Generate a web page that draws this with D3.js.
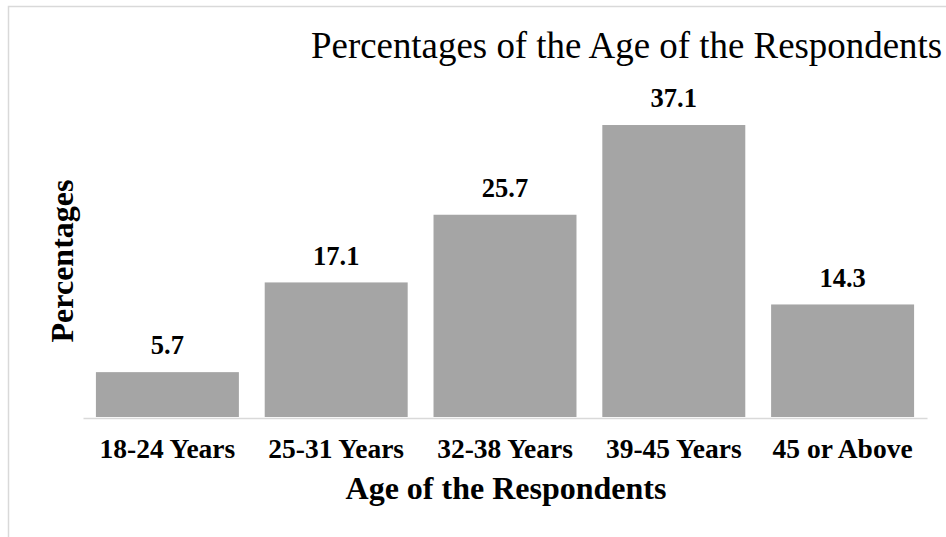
<!DOCTYPE html>
<html>
<head>
<meta charset="utf-8">
<script src="https://cdn.jsdelivr.net/npm/d3@7/dist/d3.min.js"></script>
<style>
  html, body { margin: 0; padding: 0; background: #fff; }
  svg { display: block; }
  text { font-family: "Liberation Serif", "Times New Roman", serif; fill: #000; }
</style>
</head>
<body>
<svg id="chart" width="946" height="537"></svg>
<script>
// Age groups and the share of respondents in each (%)
const categories = ["18-24 Years", "25-31 Years", "32-38 Years", "39-45 Years", "45 or Above"];
const percentages = [5.7, 17.1, 25.7, 37.1, 14.3];
const chartTitle = "Percentages of the Age of the Respondents";
const xTitle = "Age of the Respondents";
const yTitle = "Percentages";

const svg = d3.select("#chart");
const plot = { left: 83, right: 927, top: 102.2, bottom: 417 };

// Outer chart frame
svg.append("rect")
  .attr("x", 8.5).attr("y", 6.5)
  .attr("width", 1200).attr("height", 1200)
  .attr("fill", "none")
  .attr("stroke", "#d9d9d9")
  .attr("stroke-width", 1.5);

const x = d3.scaleBand()
  .domain(categories)
  .range([plot.left, plot.right])
  .paddingInner(0.153)
  .paddingOuter(0.0765);

const y = d3.scaleLinear()
  .domain([0, 40])
  .range([plot.bottom, plot.top]);

const data = categories.map((c, i) => ({ cat: c, val: percentages[i] }));

// Bars
svg.append("g").selectAll("rect")
  .data(data)
  .join("rect")
  .attr("x", d => x(d.cat))
  .attr("y", d => y(d.val))
  .attr("width", x.bandwidth())
  .attr("height", d => y(0) - y(d.val))
  .attr("fill", "#a5a5a5");

// Category axis: baseline line only, bold labels
const xAxis = svg.append("g")
  .attr("transform", `translate(0,${plot.bottom + 1})`)
  .call(d3.axisBottom(x).tickSize(0).tickPadding(0));
xAxis.select(".domain").attr("stroke", "#d9d9d9").attr("stroke-width", 1.5);
xAxis.selectAll("text")
  .attr("y", 40)
  .attr("dy", null)
  .style("font-family", '"Liberation Serif", "Times New Roman", serif')
  .style("font-size", "27.5px")
  .style("font-weight", "bold")
  .attr("fill", "#000");

// Value labels above bars
svg.append("g").selectAll("text")
  .data(data)
  .join("text")
  .attr("x", d => x(d.cat) + x.bandwidth() / 2)
  .attr("y", d => y(d.val) - 17.7)
  .attr("text-anchor", "middle")
  .style("font-size", "26.5px")
  .style("font-weight", "bold")
  .text(d => d.val.toFixed(1));

// Chart title, running right up to the frame's right edge
svg.append("text")
  .attr("x", 311)
  .attr("y", 57.5)
  .style("font-size", "36.9px")
  .text(chartTitle);

// Axis titles
svg.append("text")
  .attr("x", 506)
  .attr("y", 499)
  .attr("text-anchor", "middle")
  .style("font-size", "32px")
  .style("font-weight", "bold")
  .text(xTitle);

svg.append("text")
  .attr("transform", "translate(73,261) rotate(-90)")
  .attr("text-anchor", "middle")
  .style("font-size", "32px")
  .style("font-weight", "bold")
  .text(yTitle);
</script>
</body>
</html>
